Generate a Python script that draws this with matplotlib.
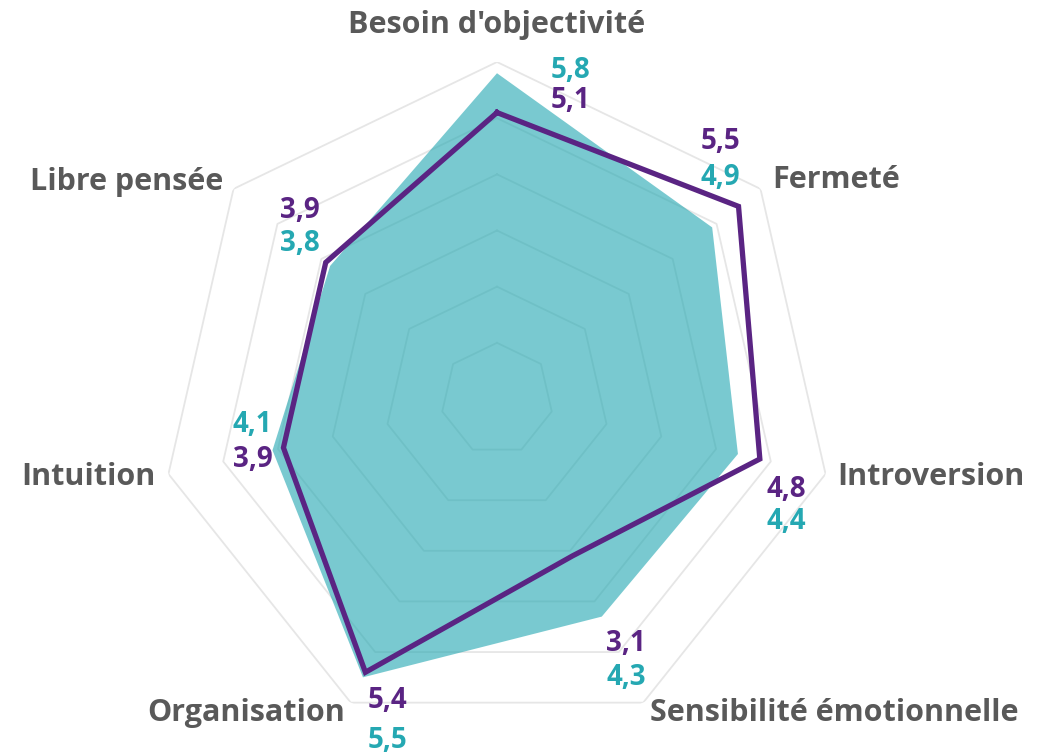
"""
  Radar chart of two profiles over seven traits.
"""
import numpy as np
import matplotlib
matplotlib.use("Agg")
import matplotlib.pyplot as plt

categories = ["Besoin d'objectivité", "Fermeté", "Introversion",
              "Sensibilité émotionnelle", "Organisation", "Intuition",
              "Libre pensée"]
teal_values = [5.8, 4.9, 4.4, 4.3, 5.5, 4.1, 3.8]
purple_values = [5.1, 5.5, 4.8, 3.1, 5.4, 3.9, 3.9]
rings = [1, 2, 3, 4, 5, 6]

TEAL_FILL = "#27A9B3"
TEAL_TEXT = "#25A8B2"
PURPLE = "#5A2483"
GRAY_TEXT = "#595959"
GRID = "#E6E6E6"

plt.rcParams["font.family"] = ["Open Sans", "DejaVu Sans"]

n = len(categories)
theta = np.arange(n) * 2 * np.pi / n
theta_closed = np.append(theta, theta[0])

fig = plt.figure(figsize=(10.61, 7.53), dpi=100)
ax = fig.add_axes([160 / 1061, 17 / 753, 674 / 1061, 674 / 753], projection="polar")
ax.set_theta_zero_location("N")
ax.set_theta_direction(-1)
ax.set_ylim(0, 6)
ax.grid(False)
ax.spines["polar"].set_visible(False)
ax.set_xticks([])
ax.set_yticks([])
ax.patch.set_alpha(0)

# heptagon grid
for r in rings:
    ax.plot(theta_closed, [r] * (n + 1), color=GRID, lw=1.3, zorder=1)

tv = np.append(teal_values, teal_values[0])
pv = np.append(purple_values, purple_values[0])
ax.fill(theta_closed, tv, color=TEAL_FILL, alpha=0.62, lw=0, zorder=2)
ax.plot(theta_closed, pv, color=PURPLE, lw=3.8, zorder=3, solid_joinstyle="miter")

# category labels: (dx, dy) in pixels from outer vertex, alignment
cat_pos = [((0, 37), "center", "center"),
           ((12, 9), "left", "center"),
           ((12, -3), "left", "center"),
           ((7, -10), "left", "center"),
           ((-6, -10), "right", "center"),
           ((-13, -3), "right", "center"),
           ((-10, 7), "right", "center")]
for i, name in enumerate(categories):
    (dx, dy), ha, va = cat_pos[i]
    ax.annotate(name, xy=(theta[i], 6), xytext=(dx, dy), textcoords="offset pixels",
                ha=ha, va=va, fontsize=22, fontweight="bold", color=GRAY_TEXT,
                annotation_clip=False)

# value labels: offsets (purple, teal) in pixels from outer vertex
val_pos = [((74, -38), (74, -8)),
           ((-40, 47), (-40, 11)),
           ((-39, -16), (-39, -48)),
           ((-17, 59), (-17, 25)),
           ((37, 2), (37, -38)),
           ((84, 14), (84, 49)),
           ((66, -22), (66, -55))]
for i in range(n):
    (pdx, pdy), (tdx, tdy) = val_pos[i]
    ax.annotate("{:.1f}".format(purple_values[i]).replace(".", ","),
                xy=(theta[i], 6), xytext=(pdx, pdy), textcoords="offset pixels",
                ha="center", va="center", fontsize=20, fontweight="bold",
                color=PURPLE, annotation_clip=False)
    ax.annotate("{:.1f}".format(teal_values[i]).replace(".", ","),
                xy=(theta[i], 6), xytext=(tdx, tdy), textcoords="offset pixels",
                ha="center", va="center", fontsize=20, fontweight="bold",
                color=TEAL_TEXT, annotation_clip=False)

fig.savefig("out.png", dpi=100, facecolor="white")
